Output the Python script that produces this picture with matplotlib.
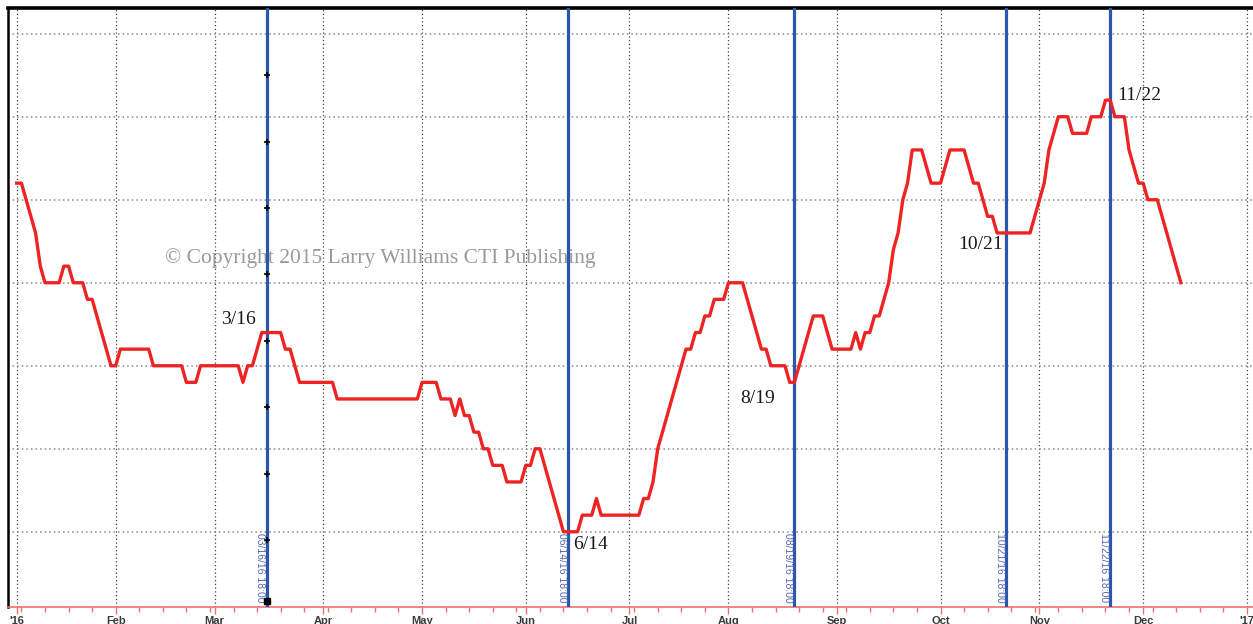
import numpy as np
import pandas as pd
import matplotlib
matplotlib.use("Agg")
from matplotlib import pyplot as plt

# seasonal line, one vertex per turning day (2016), value in ticks
line_dates = [
    "2016-01-01", "2016-01-04", "2016-01-07", "2016-01-08", "2016-01-11", "2016-01-14",
    "2016-01-15", "2016-01-18", "2016-01-19", "2016-01-21", "2016-01-22", "2016-01-25",
    "2016-01-29", "2016-02-01", "2016-02-02", "2016-02-10", "2016-02-11", "2016-02-19",
    "2016-02-22", "2016-02-24", "2016-02-25", "2016-03-08", "2016-03-09", "2016-03-10",
    "2016-03-11", "2016-03-15", "2016-03-21", "2016-03-22", "2016-03-23", "2016-03-25",
    "2016-04-05", "2016-04-06", "2016-04-29", "2016-05-02", "2016-05-05", "2016-05-06",
    "2016-05-10", "2016-05-11", "2016-05-12", "2016-05-13", "2016-05-16", "2016-05-17",
    "2016-05-18", "2016-05-19", "2016-05-20", "2016-05-23", "2016-05-25", "2016-05-26",
    "2016-05-31", "2016-06-01", "2016-06-02", "2016-06-03", "2016-06-06", "2016-06-13",
    "2016-06-16", "2016-06-17", "2016-06-21", "2016-06-22", "2016-06-23", "2016-07-05",
    "2016-07-06", "2016-07-07", "2016-07-08", "2016-07-11", "2016-07-19", "2016-07-20",
    "2016-07-21", "2016-07-22", "2016-07-25", "2016-07-26", "2016-07-27", "2016-07-29",
    "2016-08-01", "2016-08-04", "2016-08-10", "2016-08-11", "2016-08-12", "2016-08-17",
    "2016-08-18", "2016-08-19", "2016-08-25", "2016-08-29", "2016-08-31", "2016-09-06",
    "2016-09-07", "2016-09-08", "2016-09-09", "2016-09-12", "2016-09-13", "2016-09-14",
    "2016-09-16", "2016-09-19", "2016-09-20", "2016-09-21", "2016-09-22", "2016-09-23",
    "2016-09-27", "2016-09-29", "2016-10-03", "2016-10-05", "2016-10-10", "2016-10-12",
    "2016-10-13", "2016-10-17", "2016-10-18", "2016-10-19", "2016-10-28", "2016-11-01",
    "2016-11-02", "2016-11-03", "2016-11-07", "2016-11-09", "2016-11-10", "2016-11-15",
    "2016-11-16", "2016-11-18", "2016-11-21", "2016-11-22", "2016-11-23", "2016-11-25",
    "2016-11-28", "2016-11-30", "2016-12-01", "2016-12-02", "2016-12-06", "2016-12-13",
]
line_values = [
    21, 21, 18, 16, 15, 15,
    16, 16, 15, 15, 14, 14,
    10, 10, 11, 11, 10, 10,
    9, 9, 10, 10, 9, 10,
    10, 12, 12, 11, 11, 9,
    9, 8, 8, 9, 9, 8,
    8, 7, 8, 7, 7, 6,
    6, 5, 5, 4, 4, 3,
    3, 4, 4, 5, 5, 0,
    0, 1, 1, 2, 1, 1,
    2, 2, 3, 5, 11, 11,
    12, 12, 13, 13, 14, 14,
    15, 15, 11, 11, 10, 10,
    9, 9, 13, 13, 11, 11,
    12, 11, 12, 12, 13, 13,
    15, 17, 18, 20, 21, 23,
    23, 21, 21, 23, 23, 21,
    21, 19, 19, 18, 18, 20,
    21, 23, 25, 25, 24, 24,
    25, 25, 26, 26, 25, 25,
    23, 21, 21, 20, 20, 15,
]

# turning dates marked with vertical lines
event_dates = ["2016-03-16", "2016-06-14", "2016-08-19", "2016-10-21", "2016-11-22"]
event_stamps = ["03/16/16 18:00", "06/14/16 18:00", "08/19/16 18:00",
                "10/21/16 18:00", "11/22/16 18:00"]
event_names = ["3/16", "6/14", "8/19", "10/21", "11/22"]

# drawing-tool handles on the first line
handle_values = [27.5, 23.5, 19.5, 15.5, 11.5, 7.5, 3.5, -0.5]
anchor_value = -4.2

month_starts = ["2016-01-01", "2016-02-01", "2016-03-01", "2016-04-01", "2016-05-01",
                "2016-06-01", "2016-07-01", "2016-08-01", "2016-09-01", "2016-10-01",
                "2016-11-01", "2016-12-01", "2017-01-01"]
month_labels = ["'16", "Feb", "Mar", "Apr", "May", "Jun", "Jul", "Aug", "Sep",
                "Oct", "Nov", "Dec", "'17"]


def session(d):
    # weekday count from the first of the year, weekends are skipped
    return np.busday_count("2016-01-01", np.array(d, dtype="datetime64[D]"))


fig = plt.figure(figsize=(12.53, 6.24), dpi=100)
ax = fig.add_axes([8 / 1253, 1 - 607.3 / 624, 1245 / 1253, 599.3 / 624])

red = "#ee2424"
blue = "#2c56aa"

ax.plot(session(line_dates), line_values, color=red, lw=2.4, zorder=4,
        solid_joinstyle="round")

ev_x = session(event_dates)
for x, stamp in zip(ev_x, event_stamps):
    ax.axvline(x, color=blue, lw=2.3, zorder=3)
    ax.text(x - 0.35, -4.25, stamp, rotation=-90, ha="right", va="bottom",
            fontsize=7.5, family="Liberation Sans", color="#5468b4", zorder=5)

ax.plot([ev_x[0]] * len(handle_values), handle_values, ls="none", marker="+",
        ms=5, mew=1.2, color="black", zorder=5)
ax.plot([ev_x[0]], [anchor_value], ls="none", marker="s", ms=5, color="black",
        zorder=5)

# date labels next to each line
label_pos = [(-2.3, 12.8, "right"), (1.0, -0.75, "left"), (-7.7, 8.05, "center"),
             (-5.6, 17.3, "center"), (1.4, 26.3, "left")]
for x, name, (dx, y, ha) in zip(ev_x, event_names, label_pos):
    ax.text(x + dx, y, name, ha=ha, va="center", fontsize=14,
            family="Liberation Serif", color="#1a1a1a", zorder=6)

ax.text(31.5, 16.5, "\u00a9 Copyright 2015 Larry Williams CTI Publishing",
        ha="left", va="center", fontsize=15.5, family="Liberation Serif",
        color="#9a9a9a", zorder=2)

ax.set_xlim(-1.85, 262.3)
ax.set_ylim(-4.55, 31.55)

ax.set_xticks(session(month_starts))
ax.set_xticklabels(month_labels)
mondays = pd.date_range("2016-01-04", "2016-12-26", freq="W-MON").values.astype("datetime64[D]")
ax.set_xticks(session(mondays), minor=True)
ax.set_yticks(np.arange(0, 31, 5))
ax.tick_params(axis="x", which="major", length=5, width=1, color="#f07070",
               pad=1, labelsize=8, labelcolor="#3a3a3a")
ax.tick_params(axis="x", which="minor", length=3.5, width=1, color="#f07070")
ax.tick_params(axis="y", left=False, labelleft=False)
for lab in ax.get_xticklabels():
    lab.set_fontweight("bold")
    lab.set_family("Liberation Sans")

ax.grid(axis="x", which="major", ls=(0, (1, 2)), color="#444444", lw=0.9)
ax.grid(axis="y", which="major", ls=(0, (1, 2)), color="#8a8a8a", lw=1.1)

ax.spines["right"].set_visible(False)
ax.spines["top"].set_linewidth(2.6)
ax.spines["top"].set_color("black")
ax.spines["left"].set_linewidth(1.8)
ax.spines["left"].set_color("black")
ax.spines["bottom"].set_color("#f07070")
ax.spines["bottom"].set_linewidth(1.2)

fig.savefig("out.png", dpi=100)
